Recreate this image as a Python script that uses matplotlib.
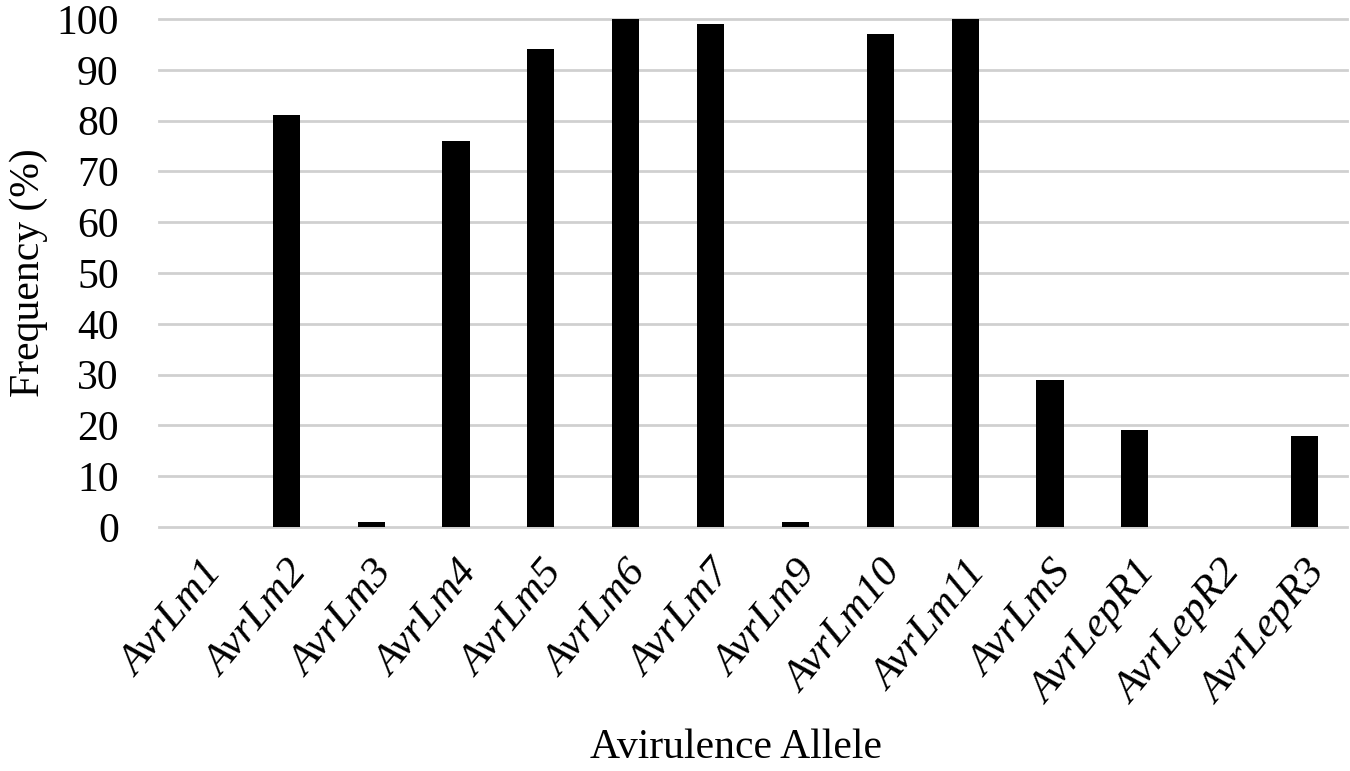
import matplotlib.pyplot as plt
import numpy as np

plt.rcParams['font.family'] = ['Liberation Serif', 'DejaVu Serif']

alleles = ['AvrLm1', 'AvrLm2', 'AvrLm3', 'AvrLm4', 'AvrLm5', 'AvrLm6', 'AvrLm7',
           'AvrLm9', 'AvrLm10', 'AvrLm11', 'AvrLmS', 'AvrLepR1', 'AvrLepR2', 'AvrLepR3']
freq = [0, 81, 1, 76, 94, 100, 99, 1, 97, 100, 29, 19, 0, 18]
yticks = np.arange(0, 101, 10)

fig = plt.figure(figsize=(13.5, 7.71), dpi=100)
ax = fig.add_axes([0.1178, 0.3165, 0.88, 0.6589])

x = np.arange(len(alleles))
ax.bar(x, freq, width=0.32, color='black', zorder=3)

ax.set_xlim(-0.5, len(alleles) - 0.5)
ax.set_ylim(0, 100)
ax.set_yticks(yticks)
ax.set_yticklabels([str(v) for v in yticks], fontsize=30)
ax.set_xticks(x)
ax.set_xticklabels(alleles, fontsize=31, style='italic', rotation=50,
                   ha='right', rotation_mode='anchor')
ax.tick_params(axis='both', length=0)
ax.tick_params(axis='y', pad=29)
ax.tick_params(axis='x', pad=20)

for s in ax.spines.values():
    s.set_visible(False)
ax.grid(axis='y', color='#d0d0d0', linewidth=2, zorder=0)
for gl in ax.get_ygridlines():
    gl.set_clip_on(False)

ax.set_ylabel('Frequency (%)', fontsize=30, labelpad=6)
fig.text(0.545, 0.03, 'Avirulence Allele', fontsize=30, ha='center', va='center')

plt.savefig('out.png', dpi=100)
